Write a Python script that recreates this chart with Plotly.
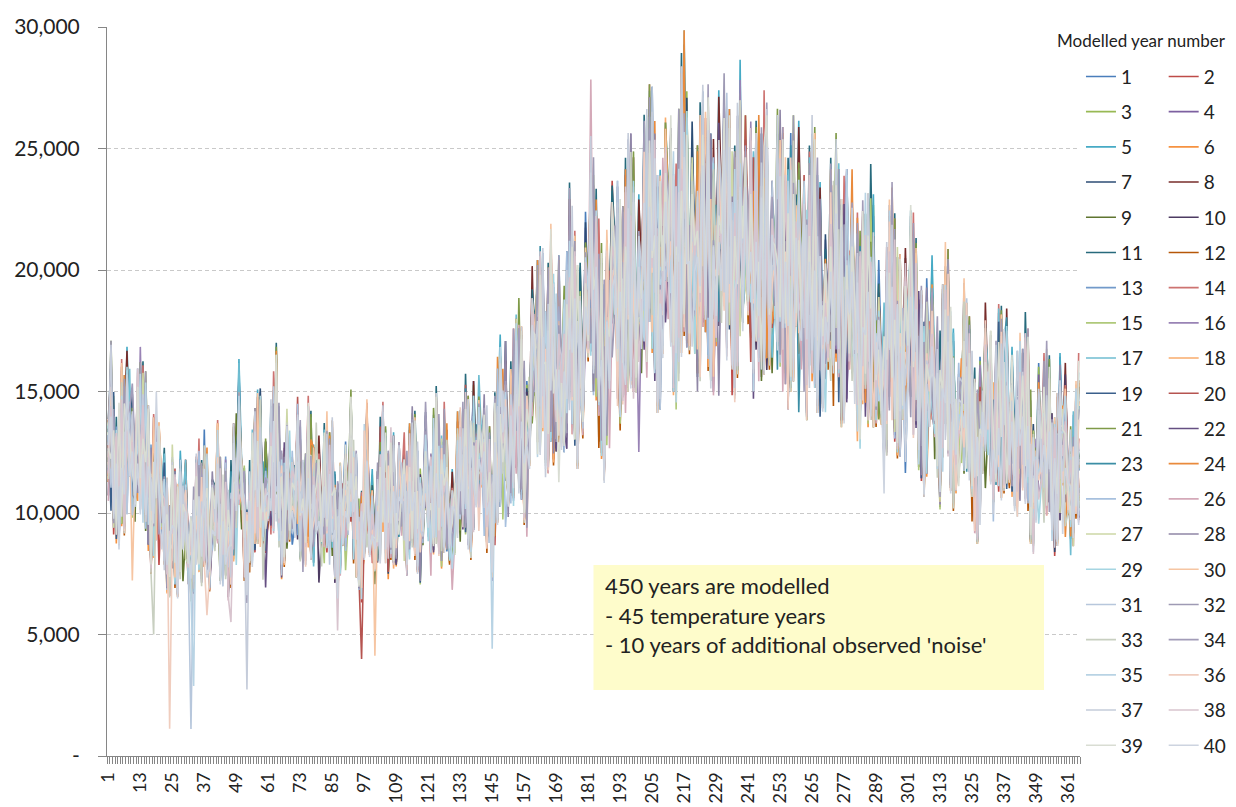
import plotly.graph_objects as go

# ---------------- data ----------------
DAYS = list(range(1, 366))
TICK_DAYS = list(range(1, 366, 12))
TICK_TEXT = [str(d) for d in TICK_DAYS]
Y_TICKS = [0, 5000, 10000, 15000, 20000, 25000, 30000]
Y_TICK_TEXT = ["-", "5,000", "10,000", "15,000", "20,000", "25,000", "30,000"]
YEAR_NAMES = [str(i) for i in range(1, 41)]

# centre of the band of modelled years, per day (hundreds)
CENTRE = [
    132, 136, 124, 110, 118, 130, 126, 134, 146, 122,
    120, 132, 138, 128, 126, 116, 104, 112, 128, 118,
    108, 100, 92, 82, 104, 96, 90, 100, 108, 98,
    88, 80, 90, 100, 104, 96, 108, 102, 86, 96,
    106, 110, 98, 94, 100, 88, 96, 110, 118, 130,
    116, 100, 84, 96, 108, 114, 120, 124, 110, 104,
    112, 118, 126, 134, 118, 100, 108, 116, 112, 104,
    114, 120, 110, 98, 106, 118, 112, 102, 116, 106,
    98, 108, 114, 106, 112, 96, 90, 102, 110, 104,
    112, 120, 110, 100, 92, 86, 112, 118, 104, 94,
    88, 98, 110, 116, 108, 100, 112, 106, 98, 110,
    114, 106, 100, 110, 118, 112, 104, 96, 108, 116,
    110, 102, 114, 120, 112, 106, 116, 110, 100, 94,
    104, 114, 120, 116, 124, 118, 112, 124, 130, 126,
    128, 122, 116, 108, 96, 118, 132, 138, 146, 140,
    120, 128, 140, 146, 150, 142, 132, 124, 150, 162,
    170, 164, 172, 168, 150, 160, 176, 166, 156, 164,
    160, 154, 172, 186, 182, 172, 164, 160, 166, 180,
    190, 205, 200, 184, 176, 168, 156, 174, 192, 198,
    204, 196, 186, 180, 194, 206, 210, 198, 188, 184,
    196, 208, 214, 220, 228, 210, 196, 192, 208, 222,
    226, 214, 204, 194, 212, 228, 240, 222, 210, 214,
    206, 200, 212, 222, 228, 220, 210, 204, 212, 218,
    224, 228, 226, 214, 202, 198, 216, 228, 222, 214,
    208, 214, 200, 206, 212, 210, 218, 214, 202, 196,
    206, 212, 218, 206, 198, 194, 206, 214, 220, 208,
    200, 194, 188, 198, 212, 206, 196, 188, 180, 176,
    186, 194, 200, 204, 196, 186, 190, 198, 200, 194,
    184, 178, 172, 182, 190, 186, 192, 184, 172, 164,
    158, 150, 170, 184, 188, 176, 170, 166, 174, 168,
    176, 184, 178, 168, 160, 154, 148, 158, 172, 164,
    152, 144, 138, 156, 170, 166, 150, 140, 136, 134,
    150, 158, 156, 144, 134, 126, 120, 132, 146, 150,
    154, 142, 130, 136, 148, 146, 150, 148, 140, 134,
    128, 134, 140, 136, 144, 140, 120, 112, 122, 130,
    128, 132, 136, 130, 118, 112, 120, 132, 140, 130,
    116, 108, 114, 124, 132,
]

# ratio to the band centre for each level code
LEVELS = {"a": 0.14, "b": 0.32, "c": 0.46, "d": 0.58, "0": 0.62, "1": 0.68,
          "2": 0.75, "3": 0.82, "4": 0.89, "5": 0.95, "6": 1.01, "7": 1.07,
          "8": 1.14, "9": 1.22, "x": 1.40}

YEAR_SCALE = [1.02, 0.98, 1.01, 0.99, 1.03, 0.97, 1.00, 1.02, 0.98, 0.99,
              1.04, 0.96, 1.01, 1.03, 0.98, 1.00, 1.02, 0.97, 0.99, 1.01,
              1.03, 0.98, 1.00, 1.02, 0.99, 0.97, 1.01, 1.00, 0.98, 1.02,
              0.99, 1.01, 0.97, 1.03, 1.00, 0.98, 1.02, 0.99, 1.01, 0.96]

# daily level code per modelled year (10 days per group)
YEAR_CODES = [
    "5637485264 4758362915 3846572635 6475839264 5374628457 4865372649 5736284753 3648572946 6573824659 4837265734 5649372846 3758462735 "
    "6485736254 5374826953 4768352647 5836472935 4957362846 6374852739 5846372654 4736958264 6385742957 5473862643 4658273645 5739462836 "
    "4863752647 6374859263 5738462954 4658372846 5374826349 6485736251 4736582947 5847362548 4637285943 6748352637 5384726459 4638572946 53847",
    "4728365947 5836472851 6473825946 3758462738 6847362549 5384726453 4657382946 6738452837 5426375849 6375824637 4856372948 6473825746 "
    "5847362549 4768352837 6374825946 5837462538 6485736294 4736582746 5847362859 6374825647 4738562948 5836472735 6473825846 4738265947 "
    "5836472645 4758362938 6384725746 5473826549 4857362637 6473825948 5364827534 4738562846 6574832537 4836275948 5647382736 6473825847 45736",
    "6374825938 4857362647 5738462539 4637285748 5846372937 3748265846 6573842635 5847362947 4738265836 5364827459 6473825738 4857362946 "
    "3648275837 5746382946 6837452738 5473826947 4658372836 6374825945 5836472736 4758362849 6473825637 5384726948 4736582746 6847362539 "
    "5473826847 4658372935 6374825746 5847362638 4736582947 6384725836 5473826549 4857362738 6374825946 5736482637 4658372849 5847362746 63748",
    "4836275946 5637482835 4758362947 6384725648 3647285739 5738462946 4857362538 6473825749 5364827346 4738562958 5847362637 6374825849 "
    "4658372736 5736482948 6485736254 4837265947 5647382836 4738265949 6374825737 5847362848 4736582956 6573842637 5384726849 4758362736 "
    "6374825948 5836472637 4738265849 6584736253 4736582947 5364827638 6473825849 4857362537 5736482948 6384725646 4758362839 5647382947 48362",
    "5748362947 4638572836 6374825948 5847362637 4736582849 6573849276 5364827538 4758362947 6473825736 5836472849 4658372937 5736482648 "
    "6847362539 4738265846 5384726937 6473825748 5637482839 4857362947 6374825638 5473826749 4836275948 6573842736 5738462849 4657382937 "
    "5836472748 6374825839 4758362946 5847362637 6473825948 4736582837 5384726749 6473825938 4857362647 5736482849 6384725736 4658372948 57384",
    "6473825849 5384726937 4758362648 6847362539 5736482948 4638572837 6374825749 5847362638 4736582947 6573842849 5473826736 4857362948 "
    "6374825637 5736482849 4658372946 6847362738 5384726849 4758362937 6473825648 5836472749 4637285938 6384725847 5473826639 4857362948 "
    "6736482537 5847362849 4738265936 6473825748 5364827849 4857362637 6584736249 4736582838 5847362946 6374825637 4758362849 5638472936 64738",
    "4857362849 6374825637 5736482948 4658372736 6847362849 5473826937 4736582648 6384725839 5847362746 4758362938 6473825637 5384726849 "
    "4637285947 6573842838 5736482649 4857362947 6374825738 5847362849 4736582936 6473825847 5384726738 4758362949 6847362637 5473826848 "
    "4658372937 6374825746 5847362839 4736582948 6573842637 5364827849 4857362736 6473825948 5736482637 4638572849 6384725938 5473826746 48573",
    "5364827938 4758362647 6473825849 5847362736 4736582948 6374825839 5473826637 4857362949 6584736247 5736482838 4658372947 6374825736 "
    "5847362849 4736582937 6473825748 5384726849 4857362636 6374825948 5736482847 4638572939 6847362748 5473826837 4758362949 6374825636 "
    "5836472748 4658372849 6473825937 5847362746 4736582838 6384725949 5473826637 4857362748 6374825839 5736482946 4637285837 6473825749 58473",
    "7364529847 3857264938 5647382915 6738254937 4526378495 3748562937 6593748256 4827365948 5738294657 6482735946 3957462835 5748362936 "
    "4658392736 6729384756 5837462947 4936582748 6384729536 5746382957 4839265738 6527384956 3746582947 5938462736 6475382958 4837592637 "
    "5394827563 6758392746 4829365738 5637482958 6384759264 4957362837 5738492657 3846572958 6295738462 4758392637 5836472958 6473958264 47385",
    "3958274635 6473958263 5837294657 4629385746 7364829537 5847392635 4736592847 6285739461 5374829637 4857392648 6394752837 5728463957 "
    "4937562837 6748392546 5829374658 4763528947 6539482736 4857392658 5738492637 6429385746 4857362938 5947382645 6385729473 4728395647 "
    "5963847259 4758392637 6829374856 5473928645 4836592738 6574839256 4938265748 5729384657 6483957264 4759382637 5847392658 4936582749 68473",
    "6829374856 4759382647 5938462735 3847592638 6574829357 4839265748 5729384756 6485739264 4937582637 5738492648 6394857263 4827395648 "
    "5739482657 6483957263 4758392647 5936482738 6847392537 4729385946 5839472658 6473928546 4958372637 5738492647 6295738464 4837592658 "
    "5649382735 6738495263 4859372648 5937482657 6483729548 4758392637 5829374657 6394827546 4738592638 5847392657 6483957264 4759382636 57384",
    "4739582637 5846392758 6394728546 4857392638 5738492657 6283947564 4958372638 5739482647 6847392536 4728395647 5839472658 6473928547 "
    "4958372638 6738492547 5829374657 4657392848 6394857263 5748392637 4839265748 6529384756 5738492647 4857392638 6394728547 5847392658 "
    "4739582637 6583947265 5738492648 4829375647 6847392536 5739482647 4958372638 6483957264 5739284657 4857392637 6394827546 5738492649 46839",
    "5829374657 6473829546 4739582648 5938472637 6384957263 4758392647 5847392638 6293847564 4739582637 5948372648 6738492537 4859372648 "
    "6394827563 5738492647 4829375648 6547392837 5839472658 4738592637 6485739264 5729384657 4938265748 6483957263 5739482646 4857392638 "
    "6394728547 5847392658 4739582637 6583947264 5738492648 4829375647 6847392536 5739482647 4958372638 6483957264 5739284657 4857392637 63948",
    "6847392536 4729385946 5839472658 6473928546 4958372637 5738492647 6295738464 4837592658 5649382735 6738495263 4859372648 5937482657 "
    "6483729548 4758392637 5829374657 6394827546 4738592638 5847392657 6483957264 4759382636 6829374856 4759382647 5938462735 3847592638 "
    "6574829357 4839265748 5729384756 6485739264 4937582637 5738492648 6394857263 4827395648 5739482657 6483957263 4758392647 5936482738 64839",
    "5394827563 6758392746 4829365738 5637482958 6384759264 4957362837 5738492657 3846572958 6295738462 4758392637 5836472958 6473958264 "
    "7364529847 3857264938 5647382915 6738254937 4526378495 3748562937 6593748256 4827365948 5738294657 6482735946 3957462835 5748362936 "
    "4658392736 6729384756 5837462947 4936582748 6384729536 5746382957 4839265738 6527384956 3746582947 5938462736 6475382958 4837592637 58473",
    "4857392638 6394728547 5847392658 4739582637 6583947265 5738492648 4829375647 6847392536 5739482647 4958372638 6483957264 5739284657 "
    "3958274635 6473958263 5837294657 4629385746 7364829537 5847392635 4736592847 6285739461 5374829637 4857392648 6394752837 5728463957 "
    "4937562837 6748392546 5829374658 4763528947 6539482736 4857392658 5738492637 6429385746 4857362938 5947382645 6385729473 4728395647 56394",
    "6385729473 4728395647 5963847259 4758392637 5637284629 5473928645 4836592738 6574839256 4938265748 5729384657 6483957264 4759382637 "
    "5847392658 4936582749 6829374856 4759382647 5938462735 3847592638 6574829357 4839265748 5729384756 6485739264 4937582637 5738492648 "
    "6394857263 4827395648 5739482657 6483957263 4758392647 5936482738 6847392537 4729385946 5839472658 6473928546 4958372637 5738492647 62957",
    "4738592637 6485739264 5729384657 4938265748 6483957263 5739482646 4857392638 6394728547 5847392658 4739582637 6583947264 5738492648 "
    "4829375647 6847392536 5739482647 4958372638 6483957264 5739284657 4857392637 6394827546 5738492649 5829374657 6473829546 4739582648 "
    "5938472637 6384957263 4758392647 5847392638 6293847564 4739582637 5948372648 6738492537 4859372648 6394827563 5738492647 4829375648 65473",
    "6293847564 4739582637 5948372648 6738492537 4859372648 6394827563 5738492647 4829375648 6547392837 5839472658 4738592637 6485739264 "
    "5729384657 4938265748 6483957263 5739482646 4857392638 6394728547 5847392658 4739582637 6583947264 5738492648 4829375647 6847392536 "
    "5739482647 4958372638 6483957264 5739284657 4857392637 5829374657 6473829546 4739582648 5938472637 6384957263 4758392647 5847392638 48572",
    "5738492647 4829375648 6547392837 5839472658 4738592637 6485739264 5729384657 4938265748 6483957263 48573c3948 6394728547 5847392658 "
    "4739582637 6583947264 5738492648 4829375647 6847392536 5739482647 4958372638 6483957264 5739284657 4857392637 6394827546 5738492649 "
    "6293847564 4739582637 5948372648 6738492537 4859372648 6394827563 5738492647 4829375648 6547392837 5839472658 4738592637 6485739264 57294",
    "4958372638 6483957264 5739284657 4857392637 6394827546 5738492649 5829374657 6473829546 4739582648 5938472637 6384957263 4758392647 "
    "6394857263 4827395648 5739482657 6483957263 4758392647 5936482738 6847392537 4729385946 5839472658 6473928546 4958372637 5738492647 "
    "4739582637 5948372648 6738492537 4859372648 6394827563 5738492647 4829375648 6547392837 5839472658 4738592637 6485739264 5729384657 49382",
    "5837294657 4629385746 7364829537 5847392635 4736592847 6285739461 5374829637 4857392648 6394752837 5728463957 4937562837 6748392546 "
    "5829374658 4763528947 6539482736 4857392658 5738492637 6429385746 4857362938 5947382645 6385729473 4728395647 5963847259 4758392637 "
    "6829374856 5473928645 4836592738 6574839256 4938265748 5729384657 6483957264 4759382637 5847392658 4936582749 3958274635 6473958263 58372",
    "6739482546 4857392638 5638492747 4729385946 6384759263 5847392658 4938265748 6529384756 4837592637 5749382648 6384957263 4829375647 "
    "5738492658 6483957264 4759382637 5847392658 6394827546 4738592637 5829374657 6473928546 4958372637 4728359647 6385729473 5847392635 "
    "4736592847 6285739461 5374829637 4857392648 6394752837 5728463957 4937562837 6748392546 5829374658 4763528947 6539482736 4857392658 57384",
    "5374829637 4857392648 6394752837 5728463957 4937562837 6748392546 5829374658 4763528947 6539482736 4857392658 5738492637 6429385746 "
    "4857362938 5947382645 6385729473 4728395647 5963847259 4758392637 6829374856 5473928645 4836592738 6574839256 4938265748 5729384657 "
    "6483957264 4759382637 5847392658 4936582749 3958274635 6473958263 5837294657 4629385746 7364829537 5847392635 4736592847 6285739461 53748",
    "6574839256 4938265748 5729384657 6483957264 4759382637 5847392658 4936582749 3958274635 6473958263 5837294657 4629385746 7364829537 "
    "5847392635 4736592847 6285739461 5374829637 4857392648 6394752837 5728463957 4937562837 6748392546 5829374658 4763528947 6539482736 "
    "4857392658 5738492637 6429385746 4857362938 5947382645 6385729473 4728395647 5963847259 4758392637 6829374856 5473928645 4836592738 65748",
    "3746582947 5938462736 6475382958 4837592637 5394827563 6758392746 4829365738 5637482958 6384759264 4957362837 5738492657 3846572958 "
    "6295738462 4758392637 5836472958 6473958264 7364529847 3857264938 5x47382915 6738254937 4526378495 3748562937 6593748256 4827365948 "
    "5738294657 6482735946 3957462835 5748362936 4658392736 6729384756 5837462947 4936582748 6384729536 5746382957 4839265738 6527384956 48372",
    "4827395648 5739482657 6483957263 4758392647 5936482738 6847392537 4729385946 5839472658 6473928546 4958372637 5738492647 6295738464 "
    "4837592658 5649382735 6738495263 4859372648 5937482657 6483729548 4758392637 5829374657 6394827546 4738592638 5847392657 6483957264 "
    "4759382636 6829374856 4759382647 5938462735 3847592638 6574829357 4839265738 5729384756 6485739264 4937582637 5738492648 6394857263 58294",
    "5947382645 6385729473 4728395647 5963847259 4758392637 6829374856 5473928645 4836592738 6574839256 4938265748 5729384657 6483957264 "
    "4759382637 5847392658 4936582749 3958274635 6473958263 5837294657 4629385746 7364829537 5847392635 4736592847 6285739461 5374829637 "
    "4857392648 6394752837 5728463957 4937562837 6748392546 5829374658 4763528947 6539482736 4857392658 5738492637 6429385746 4857362938 47385",
    "5836472958 6473958264 7364529847 3857264938 5647382915 6738254937 4526378495 3748562937 6593748256 4827365948 5738294657 6482735946 "
    "3957462835 5748362936 4658392736 6729384756 5837462947 4936582748 6384729536 5746382957 4839265738 6527384956 3746582947 5938462736 "
    "6475382958 4837592637 5394827563 6758392746 4829365738 5637482958 6384759264 4957362837 5738492657 3846572958 6295738462 4758392637 64739",
    "473859264d 5837264918 6374829536 4758293647 5938462735 6473829156 4837592648 5726384957 6493827546 3857264938 c638492745 5748392637 "
    "4629385746 6847392538 5738294657 4958372648 6384729537 5847392658 4736582947 6529384756 4837265948 5738492637 6394857264 4827395648 "
    "5739482657 6483957263 4758392647 5936482738 6847392537 4729385946 5839472658 6473928546 4958372637 5738492647 6295738464 4837592658 56493",
    "6385947263 4927384658 5849372637 4a58392746 6372948536 5847293647 4693827564 5738294638 6472938547 3958472637 5749382946 4638295748 "
    "5847392658 4739582637 6583947264 5738492648 4829375647 6847392536 5739482647 4958372638 6483957264 5739284657 4857392637 6394827546 "
    "5738492649 5829374657 6473829546 4739582648 5938472637 6384957263 4758392647 5847392638 6293847564 4739582637 5948372648 6738492537 48593",
    "6483729548 4758392637 5829374657 6394827546 4738592638 5847392657 6483957264 4759382636 6829374856 4759382647 5938462735 3847592638 "
    "6574829357 4839265748 5729384756 6485739264 4937582637 5738492648 6394857263 4827395648 5739482657 6483957263 4758392647 5936482738 "
    "6847392537 4729385946 5839472658 6473928546 4958372637 5738492647 6295738464 4837592658 5649382735 6738495263 4859372648 5937482657 64837",
    "4758392637 5836472c58 6473958264 7364529847 3857264938 5647382915 6738254937 4526378495 3748562937 6593748256 4827365948 5738294657 "
    "6482735946 3957462835 5748362936 4658392736 6729384756 5837462947 4936582748 6384729536 5746382957 4839265738 6527384956 3746582947 "
    "5938462736 6475382958 4837592637 5394827563 6758392746 4829365738 5637482958 6384759264 4957362837 5738492657 3846572958 6295738462 47583",
    "4928374659 6385947362 5739284756 4867392548 6394857263 5827493657 4738295846 6592847365 5384729648 4769382536 6847295738 5392847659 "
    "6483957264 5739284657 4857392637 6394827546 5738492649 5829374657 6473829546 4739582648 5938472637 6384957263 4758392647 5847392638 "
    "5847263948 4639285736 6284759364 4958362748 5739482637 6482937546 4837592648 5928374657 6473829548 4859372637 5738294657 6492837546 57382",
    "4739285647 6582937465 5847362938 63b8472957 4928375648 5739482736 6847293548 4658392746 5927384657 6384729538 4759283647 5846392758 "
    "6392847563 4857392648 5728c63957 4639582746 6283947593 5938274658 6749382546 4827593648 5384729657 6492837546 4759382638 5738492756 "
    "4829375946 6538492748 5947382637 4736582958 6283947564 5849372638 4958273647 6372849536 5748392657 4839275648 6594837264 5738294658 48392",
    "5839472638 4927385647 638a492758 5746392d48 4839572647 6294837565 5738492846 4869273548 5937482637 6482739546 4758293748 5693827465 "
    "4857293648 6394857362 5728394657 4837592948 6493827563 5847392647 4739582936 6283947557 5937482648 4658392736 6829374658 5384729647 "
    "4759382946 6384729537 5827394658 4938572647 6593847265 5739284756 4826395748 6748392536 5394827649 4857392638 6283947564 5749382637 46837",
    "5948372638 4738295647 6294857364 5839274658 4758392946 65b8392745 4937582648 5829374637 6483927546 4759283647 5839472958 6374829536 "
    "4829375648 5748392637 6394857265 4857392648 5739284756 6482937546 4938572637 5827394658 6593847264 4738295746 5849372638 6384729547 "
    "4759283946 5938472637 6482937565 5739482648 4827395637 6394857264 5748392646 4839275648 6583947263 5729384657 4958372648 6374829536 59384",
    "4739582637 5948372648 6738492537 4859372648 639482d563 5738492647 4829375648 6547392837 583947d658 4738592637 6485739264 5729384657 "
    "4938265748 6483957263 5739482646 4857392638 6394728547 5847392658 4739582637 6583947264 5738492648 4829375647 6847392536 5739482647 "
    "4958372638 6483957264 5739284657 4857392637 6394827546 5738492649 5829374657 6473829546 4739582648 5938472637 6384957263 4758392647 58473",
    "5473928645 4836592738 6574839256 4938265748 5729384657 6483957264 4759382637 5847392658 4936582749 3958274635 6473958263 5837294657 "
    "4629385746 7364829537 5847392635 4736592847 6285739461 5374829637 4857392648 6394752837 5728463957 4937562837 6748392546 5829374658 "
    "4763528947 6539482736 4857392658 5738492637 6429385746 4857362938 5947382645 6385729473 4728395647 5963847259 4758392637 6829374856 54739",
    "6738254937 4526378495 3748562937 6593748256 4827365948 5738294657 6482735946 3957462835 5748362936 4658392736 6729384756 5837462947 "
    "4936582748 6384729536 5746382957 4839265738 6527384956 3746582947 5938462736 6475382958 4837592637 5394827563 6758392746 4829365738 "
    "5637482958 6384759264 4957362837 5738492657 3846572958 6295738462 4758392637 5836472958 6473958264 7364529847 3857264938 5647382915 67382",
]

COLORS = [
    "#4A7EBB", "#BE4B48", "#98B954", "#7D60A0", "#46AAC5", "#F69240",
    "#2C4D75", "#772C2A", "#5F7530", "#4D3B62", "#276A7C", "#B65708",
    "#729ACA", "#CD7371", "#AFC97A", "#9983B5", "#6FBDD1", "#F9AB6B",
    "#3A5F8B", "#B65450", "#7F9A48", "#654F82", "#3B8EA5", "#E98A3C",
    "#A7C0DE", "#D4A9B8", "#CDD7A6", "#8F86A6", "#A5D5E2", "#F6C5A2",
    "#B7C7DC", "#9E9AB4", "#C8CFC0", "#A29CB8", "#B8D3E4", "#F0CDBE",
    "#C5CCDA", "#D8C4CE", "#D9DDD3", "#CDD4E0",
]

FONT = "Lato, 'Open Sans', Arial, sans-serif"
TEXT_COLOR = "#222222"
AXIS_COLOR = "#868686"

# ---------------- figure ----------------
fig = go.Figure()

for i, name in enumerate(YEAR_NAMES):
    code = YEAR_CODES[i].replace(" ", "")
    n = min(len(code), len(CENTRE), len(DAYS))
    values = [round(CENTRE[d] * 100 * YEAR_SCALE[i] * LEVELS[code[d]]) for d in range(n)]
    fig.add_trace(go.Scatter(
        x=DAYS[:n], y=values, mode="lines", name=name,
        line=dict(color=COLORS[i], width=1.6),
        legend="legend" if i % 2 == 0 else "legend2",
        legendgroup="year" + name,
        hoverinfo="skip",
    ))

legend_common = dict(
    yanchor="top", xanchor="left", y=0.958,
    bgcolor="rgba(0,0,0,0)", borderwidth=0,
    font=dict(family=FONT, size=19, color=TEXT_COLOR),
    tracegroupgap=7.5, itemwidth=30, orientation="v",
)

# the page adds an 8px body margin, so the figure is 8px smaller than the window
fig.update_layout(
    width=1228, height=799,
    margin=dict(l=99, r=156, t=19, b=51, autoexpand=False),
    paper_bgcolor="white", plot_bgcolor="white",
    font=dict(family=FONT, color=TEXT_COLOR),
    showlegend=True,
    legend=dict(x=1.001, **legend_common),
    legend2=dict(x=1.086, **legend_common),
    xaxis=dict(
        range=[0.5, 365.5], tickmode="array", tickvals=TICK_DAYS, ticktext=TICK_TEXT,
        tickangle=-90, ticks="", ticklabelstandoff=8,
        tickfont=dict(family=FONT, size=18, color=TEXT_COLOR),
        showline=True, linecolor=AXIS_COLOR, linewidth=1,
        showgrid=False, zeroline=False,
        minor=dict(ticks="outside", ticklen=7, tickcolor=AXIS_COLOR, tickwidth=1,
                   tickmode="linear", tick0=0.5, dtick=1, showgrid=False),
    ),
    yaxis=dict(
        range=[0, 30000], tickmode="array", tickvals=Y_TICKS, ticktext=Y_TICK_TEXT,
        ticks="outside", ticklen=8, tickcolor=AXIS_COLOR, ticklabelstandoff=14,
        tickfont=dict(family=FONT, size=21, color=TEXT_COLOR),
        showline=True, linecolor=AXIS_COLOR, linewidth=1,
        showgrid=True, gridcolor="#C9C9C9", gridwidth=1, griddash="4px,3px",
        zeroline=False,
    ),
)

# text box
fig.add_shape(type="rect", xref="paper", yref="paper", x0=0.5, x1=0.963, y0=0.0905, y1=0.262,
              fillcolor="#FEFCCB", line=dict(width=0), layer="above")
for text, yy in [("450 years are modelled", 0.2332),
                 ("- 45 temperature years", 0.1930),
                 ("- 10 years of additional observed 'noise'", 0.1535)]:
    fig.add_annotation(text=text, xref="paper", yref="paper", x=0.510, y=yy,
                       xanchor="left", yanchor="middle", showarrow=False, align="left",
                       font=dict(family=FONT, size=22, color=TEXT_COLOR))

# legend title
fig.add_annotation(text="Modelled year number", xref="paper", yref="paper", x=0.9743, y=0.982,
                   xanchor="left", yanchor="middle", showarrow=False,
                   font=dict(family=FONT, size=17, color=TEXT_COLOR))

fig.write_html("out.html")
